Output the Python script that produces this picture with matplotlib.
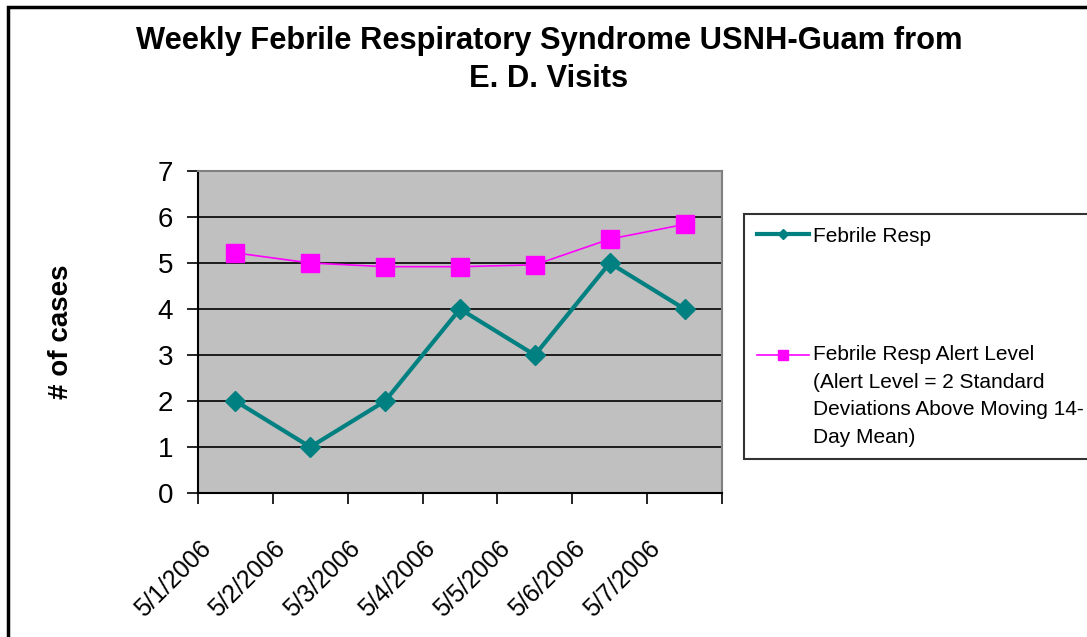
import numpy as np
import matplotlib
matplotlib.use("Agg")
import matplotlib.pyplot as plt
from matplotlib.legend_handler import HandlerLine2D
from matplotlib.patches import Rectangle
import matplotlib.transforms as mtransforms

plt.rcParams['font.family'] = ['Liberation Sans', 'DejaVu Sans']

dates = ["5/1/2006", "5/2/2006", "5/3/2006", "5/4/2006", "5/5/2006", "5/6/2006", "5/7/2006"]
febrile = [2, 1, 2, 4, 3, 5, 4]
alert = [5.22, 5.0, 4.92, 4.92, 4.96, 5.52, 5.84]

title = "Weekly Febrile Respiratory Syndrome USNH-Guam from\nE. D. Visits"
lab1 = "Febrile Resp"
lab2 = "Febrile Resp Alert Level\n(Alert Level = 2 Standard\nDeviations Above Moving 14-\nDay Mean)"

LEG_FS = 15
LEG_LS = 1.56


class TopLineHandler(HandlerLine2D):
    # put the handle next to the first line of a multi-line label
    def __init__(self, nlines, **kw):
        super().__init__(**kw)
        self.nlines = nlines

    def create_artists(self, legend, orig_handle, xdescent, ydescent,
                       width, height, fontsize, trans):
        dy = (self.nlines - 1) / 2 * 0.85 * fontsize * LEG_LS
        t2 = mtransforms.Affine2D().translate(0, dy) + trans
        return super().create_artists(legend, orig_handle, xdescent, ydescent,
                                      width, height, fontsize, t2)


fig = plt.figure(figsize=(10.87, 6.37), dpi=100)
ax = fig.add_axes([198 / 1087, 1 - 493 / 637, 524 / 1087, 322 / 637])
ax.set_facecolor("#C0C0C0")

x = np.arange(len(dates)) + 0.5
l1, = ax.plot(x, febrile, color="#008080", lw=3, marker="D", ms=10.5,
              markeredgecolor="#008080", label=lab1)
l2, = ax.plot(x, alert, color="#FF00FF", lw=1.2, marker="s", ms=13.5,
              markeredgecolor="#FF00FF", label=lab2)

ax.set_xlim(0, 7)
ax.set_ylim(0, 7)
ax.set_yticks(range(0, 8))
ax.set_xticks(range(0, 8))
ax.set_xticklabels([])
ax.set_xticks(x, minor=True)
ax.set_xticklabels(dates, minor=True, rotation=45, ha="right", va="top",
                   rotation_mode="anchor")
ax.tick_params(axis="y", labelsize=20, length=8, width=1.2, pad=10, direction="out")
ax.tick_params(axis="x", which="major", length=8, width=1.2, direction="out")
ax.tick_params(axis="x", which="minor", labelsize=17.8, length=0, pad=31)
for t in ax.get_xticklabels(minor=True):
    t.set_transform(t.get_transform() + mtransforms.ScaledTranslation(-0.37, 0, fig.dpi_scale_trans))

ax.grid(axis="y", color="black", lw=1.2)
ax.set_axisbelow(True)
for s in ["top", "right"]:
    ax.spines[s].set_color("#808080")
    ax.spines[s].set_linewidth(1.5)
for s in ["left", "bottom"]:
    ax.spines[s].set_color("black")
    ax.spines[s].set_linewidth(1.5)

ax.set_ylabel("# of cases", fontsize=20, fontweight="bold", labelpad=60)
fig.text(0.505, 1 - 60 / 637, title, ha="center", va="center", fontsize=22.2,
         fontweight="bold", linespacing=1.38)

leg = fig.legend(handles=[l1, l2], loc="upper left",
                 bbox_to_anchor=(744 / 1087, 1 - 214 / 637),
                 fontsize=LEG_FS, frameon=True, fancybox=False, edgecolor="black",
                 borderaxespad=0, borderpad=0.6, handlelength=2.5, handletextpad=0.2,
                 labelspacing=4.8,
                 handler_map={l1: TopLineHandler(1, numpoints=1),
                              l2: TopLineHandler(4, numpoints=1)})
leg.get_frame().set_linewidth(1.5)
for t in leg.get_texts():
    t.set_linespacing(LEG_LS)
for h in leg.legend_handles:
    h.set_markersize(h.get_markersize() * 0.5)

fig.patches.append(Rectangle((8 / 1087, -0.1), 1.2, 1 - 7 / 637 + 0.1,
                             transform=fig.transFigure, fill=False,
                             edgecolor="black", lw=2.5))

fig.savefig("out.png", dpi=100)
